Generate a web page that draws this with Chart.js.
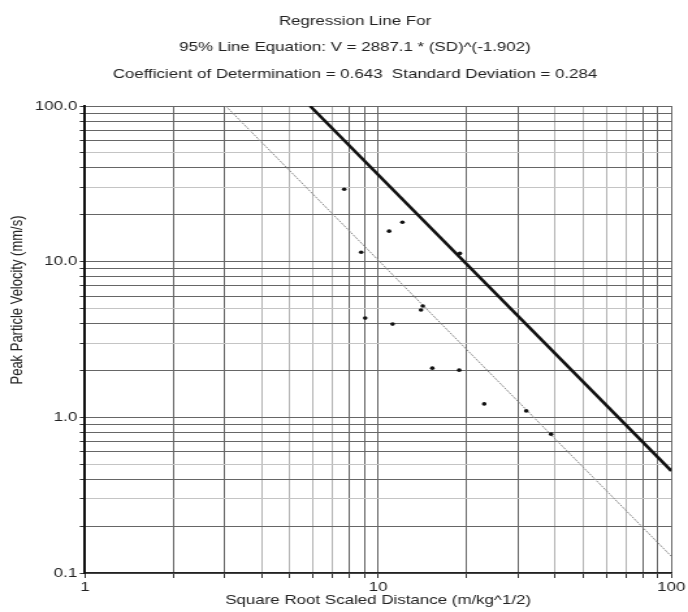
<!DOCTYPE html>
<html>
<head>
<meta charset="utf-8">
<script src="https://cdn.jsdelivr.net/npm/chart.js@4"></script>
<style>
html, body { margin: 0; padding: 0; background: #fff; overflow: hidden; }
/* the original scan is stretched sideways, so the chart is drawn narrow and widened */
#wrap { width: 529px; height: 612px; transform: scaleX(1.30057); transform-origin: 0 0; }
</style>
</head>
<body>
<div id="wrap"><canvas id="myChart" width="529" height="612"></canvas></div>
<script>
// measured blasts (scaled distance vs peak particle velocity)
var sdValues  = [7.66, 8.75, 9.03, 10.9, 12.1, 11.2, 14.2, 14.0, 15.3, 18.9, 19.0, 23.0, 32.0, 38.9]
var ppvValues = [29.2, 11.5, 4.34, 15.7, 17.9, 3.97, 5.19, 4.89, 2.07, 2.01, 11.3, 1.22, 1.10, 0.78]

// 95% line  V = 2887.1 * SD^-1.902 (ends read at the plot edges)
var line95SD = [5.86, 100]
var line95V  = [100, 0.453]
// regression (50%) line, same slope
var line50SD = [3.02, 100]
var line50V  = [100, 0.128]

var xTicks = [1, 2, 3, 4, 5, 6, 7, 8, 9, 10, 20, 30, 40, 50, 60, 70, 80, 90, 100]
var yTicks = [0.1, 0.2, 0.3, 0.4, 0.5, 0.6, 0.7, 0.8, 0.9, 1, 2, 3, 4, 5, 6, 7, 8, 9, 10, 20, 30, 40, 50, 60, 70, 80, 90, 100]

var titleLines = [
    'Regression Line For',
    '95% Line Equation: V = 2887.1 * (SD)^(-1.902)',
    'Coefficient of Determination = 0.643  Standard Deviation = 0.284'
]
var xTitle = 'Square Root Scaled Distance (m/kg^1/2)'
var yTitle = 'Peak Particle Velocity (mm/s)'

var FONT = "'Liberation Sans', Arial, sans-serif"
var SX = 688 / 529   // sideways stretch of the wrapper

function mant(v) {
    var m = v / Math.pow(10, Math.floor(Math.log10(v) + 1e-9))
    return Math.round(m)
}
function isDecade(v) {
    var l = Math.log10(v)
    return Math.abs(l - Math.round(l)) < 1e-6
}

// titles drawn by hand (they sit off-centre in the original)
var textPlugin = {
    id: 'texts',
    afterDraw: function (chart) {
        var ctx = chart.ctx
        ctx.save()
        ctx.fillStyle = '#222'
        ctx.font = '13px ' + FONT
        ctx.textAlign = 'center'
        ctx.textBaseline = 'middle'
        titleLines.forEach(function (t, i) {
            ctx.fillText(t, 355 / SX, 21 + i * 26.5)
        })
        ctx.translate(17 / SX, 300)
        ctx.rotate(-Math.PI / 2)
        ctx.fillText(yTitle, 0, 0)
        ctx.restore()
    }
}

var canvas = document.getElementById('myChart')
var myChart = new Chart(canvas, {
    type: 'scatter',
    data: {
        datasets: [{
            label: 'data',
            data: sdValues.map(function (x, i) { return {x: x, y: ppvValues[i]} }),
            pointRadius: 1.8,
            pointBackgroundColor: '#111',
            pointBorderWidth: 0,
            showLine: false
        }, {
            label: '95%',
            data: line95SD.map(function (x, i) { return {x: x, y: line95V[i]} }),
            showLine: true,
            borderColor: '#111',
            borderWidth: 2.6,
            pointRadius: 0
        }, {
            label: '50%',
            data: line50SD.map(function (x, i) { return {x: x, y: line50V[i]} }),
            showLine: true,
            borderColor: '#8a8a8a',
            borderWidth: 1,
            borderDash: [2, 1],
            pointRadius: 0
        }]
    },
    options: {
        responsive: false,
        animation: false,
        layout: { padding: { top: 106, right: 16 / SX, bottom: 0, left: 0 } },
        plugins: {
            legend: { display: false },
            tooltip: { enabled: false }
        },
        scales: {
            x: {
                type: 'logarithmic',
                min: 1,
                max: 100,
                afterBuildTicks: function (s) { s.ticks = xTicks.map(function (v) { return {value: v} }) },
                afterFit: function (s) { s.height = 39 },
                ticks: {
                    autoSkip: false,
                    maxRotation: 0,
                    padding: 2,
                    color: '#222',
                    font: { family: FONT, size: 13 },
                    callback: function (v) { return isDecade(v) ? String(v) : '' }
                },
                grid: {
                    color: function (c) { return [4, 5, 6, 7].indexOf(mant(c.tick.value)) >= 0 ? '#b4b4b4' : '#666' },
                    tickColor: '#333',
                    tickLength: 5
                },
                border: { color: '#222', width: 1.5 },
                title: {
                    display: true,
                    text: xTitle,
                    color: '#222',
                    font: { family: FONT, size: 13 },
                    padding: { top: 0, bottom: 4 }
                }
            },
            y: {
                type: 'logarithmic',
                min: 0.1,
                max: 100,
                afterBuildTicks: function (s) { s.ticks = yTicks.map(function (v) { return {value: v} }) },
                afterFit: function (s) { s.width = 85 / SX },
                ticks: {
                    autoSkip: false,
                    padding: 2,
                    color: '#222',
                    font: { family: FONT, size: 13 },
                    callback: function (v) { return isDecade(v) ? v.toFixed(1) : '' }
                },
                grid: {
                    color: function (c) { return [3, 5].indexOf(mant(c.tick.value)) >= 0 ? '#c4c4c4' : '#666' },
                    tickColor: '#333',
                    tickLength: 4
                },
                border: { color: '#111', width: 2 }
            }
        }
    },
    plugins: [textPlugin]
})
</script>
</body>
</html>
